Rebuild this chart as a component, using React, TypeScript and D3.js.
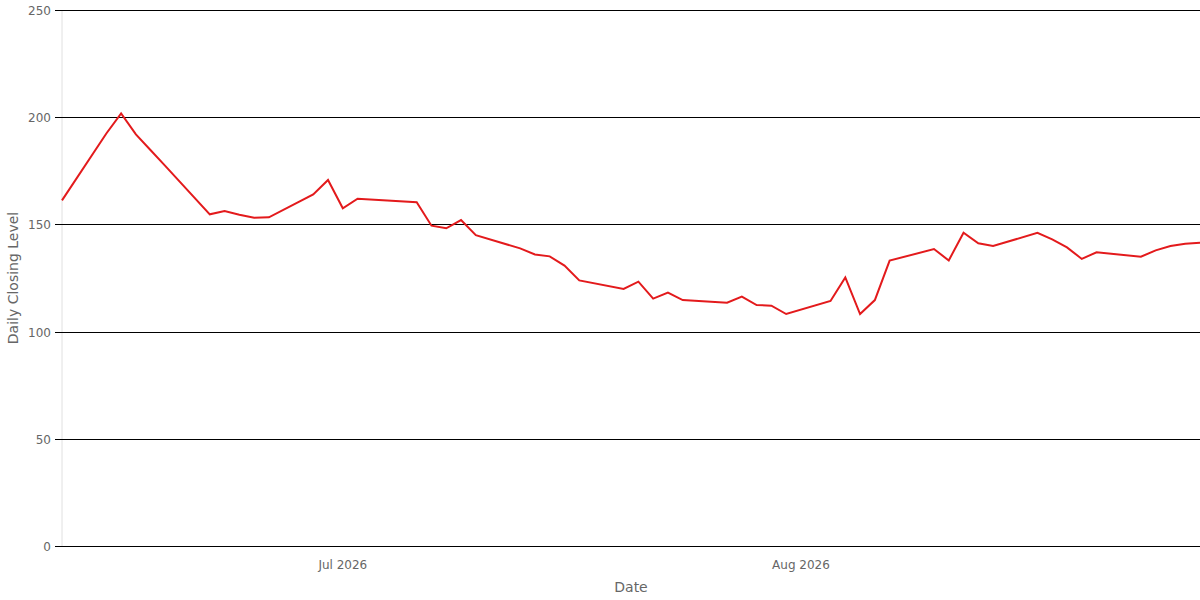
import React, { useEffect, useRef } from 'react';
import * as d3 from 'd3';

const dates = [
  '2026-06-12', '2026-06-15', '2026-06-16', '2026-06-17', '2026-06-18', '2026-06-19',
  '2026-06-22', '2026-06-23', '2026-06-24', '2026-06-25', '2026-06-26',
  '2026-06-29', '2026-06-30', '2026-07-01', '2026-07-02',
  '2026-07-06', '2026-07-07', '2026-07-08', '2026-07-09', '2026-07-10',
  '2026-07-13', '2026-07-14', '2026-07-15', '2026-07-16', '2026-07-17',
  '2026-07-20', '2026-07-21', '2026-07-22', '2026-07-23', '2026-07-24',
  '2026-07-27', '2026-07-28', '2026-07-29', '2026-07-30', '2026-07-31',
  '2026-08-03', '2026-08-04', '2026-08-05', '2026-08-06', '2026-08-07',
  '2026-08-10', '2026-08-11', '2026-08-12', '2026-08-13', '2026-08-14',
  '2026-08-17', '2026-08-18', '2026-08-19', '2026-08-20', '2026-08-21',
  '2026-08-24', '2026-08-25', '2026-08-26', '2026-08-27', '2026-08-28',
];

const closes = [
  161.2, 192.4, 201.8, 192.0, 184.6, 177.2,
  154.7, 156.2, 154.5, 153.1, 153.3,
  164.0, 170.7, 157.5, 162.0,
  160.3, 149.4, 148.2, 152.0, 145.0,
  138.8, 136.0, 135.1, 130.8, 123.9,
  119.9, 123.3, 115.4, 118.2, 114.7,
  113.5, 116.3, 112.4, 112.1, 108.2,
  114.3, 125.3, 108.2, 114.7, 133.1,
  138.5, 133.2, 146.1, 141.2, 139.9,
  146.1, 143.0, 139.3, 133.9, 137.0,
  134.9, 137.9, 139.9, 141.0, 141.5,
];

const yTicks = [0, 50, 100, 150, 200, 250];
const xTicks = ['2026-07-01', '2026-08-01'];
const xTickLabels = ['Jul 2026', 'Aug 2026'];

const W = 1200;
const H = 600;
const margin = { top: 10, right: 0, bottom: 54, left: 62 };
const FONT = '"DejaVu Sans", sans-serif';

const App: React.FC = () => {
  const ref = useRef<SVGSVGElement>(null);

  useEffect(() => {
    if (!ref.current) return;
    const svg = d3.select(ref.current);
    svg.selectAll('*').remove();

    const parse = d3.utcParse('%Y-%m-%d');
    const data = dates.map((d, i) => ({ date: parse(d) as Date, value: closes[i] }));

    const x = d3.scaleUtc()
      .domain(d3.extent(data, d => d.date) as [Date, Date])
      .range([margin.left, W - margin.right]);
    const y = d3.scaleLinear()
      .domain([0, 250])
      .range([H - margin.bottom, margin.top]);

    // left axis line
    svg.append('line')
      .attr('x1', margin.left).attr('x2', margin.left)
      .attr('y1', margin.top).attr('y2', H - margin.bottom)
      .attr('stroke', '#e0e0e0');

    // gridlines + ticks
    const yg = svg.append('g');
    yTicks.forEach(t => {
      const yy = Math.round(y(t)) + 0.5;
      yg.append('line')
        .attr('x1', margin.left - 7).attr('x2', W - margin.right)
        .attr('y1', yy).attr('y2', yy)
        .attr('stroke', '#000').attr('stroke-width', 1);
      yg.append('text')
        .attr('x', margin.left - 11).attr('y', yy)
        .attr('dy', '0.35em')
        .attr('text-anchor', 'end')
        .attr('font-family', FONT).attr('font-size', 12)
        .attr('fill', '#666')
        .text(t);
    });

    // x labels
    xTicks.forEach((t, i) => {
      svg.append('text')
        .attr('x', x(parse(t) as Date))
        .attr('y', H - margin.bottom + 23)
        .attr('text-anchor', 'middle')
        .attr('font-family', FONT).attr('font-size', 12)
        .attr('fill', '#666')
        .text(xTickLabels[i]);
    });

    svg.append('text')
      .attr('x', (margin.left + W - margin.right) / 2)
      .attr('y', H - 8)
      .attr('text-anchor', 'middle')
      .attr('font-family', FONT).attr('font-size', 14)
      .attr('fill', '#666')
      .text('Date');

    svg.append('text')
      .attr('transform', `translate(18, ${(margin.top + H - margin.bottom) / 2}) rotate(-90)`)
      .attr('text-anchor', 'middle')
      .attr('font-family', FONT).attr('font-size', 14)
      .attr('fill', '#666')
      .text('Daily Closing Level');

    const line = d3.line<{ date: Date; value: number }>()
      .x(d => x(d.date))
      .y(d => y(d.value));

    svg.append('path')
      .datum(data)
      .attr('d', line)
      .attr('fill', 'none')
      .attr('stroke', '#e31a1c')
      .attr('stroke-width', 2)
      .attr('stroke-linejoin', 'miter');
  }, []);

  return (
    <div style={{ position: 'fixed', left: 0, top: 0, width: W, height: H, background: '#fff' }}>
      <svg ref={ref} width={W} height={H} style={{ display: 'block' }}></svg>
    </div>
  );
};

export default App;
